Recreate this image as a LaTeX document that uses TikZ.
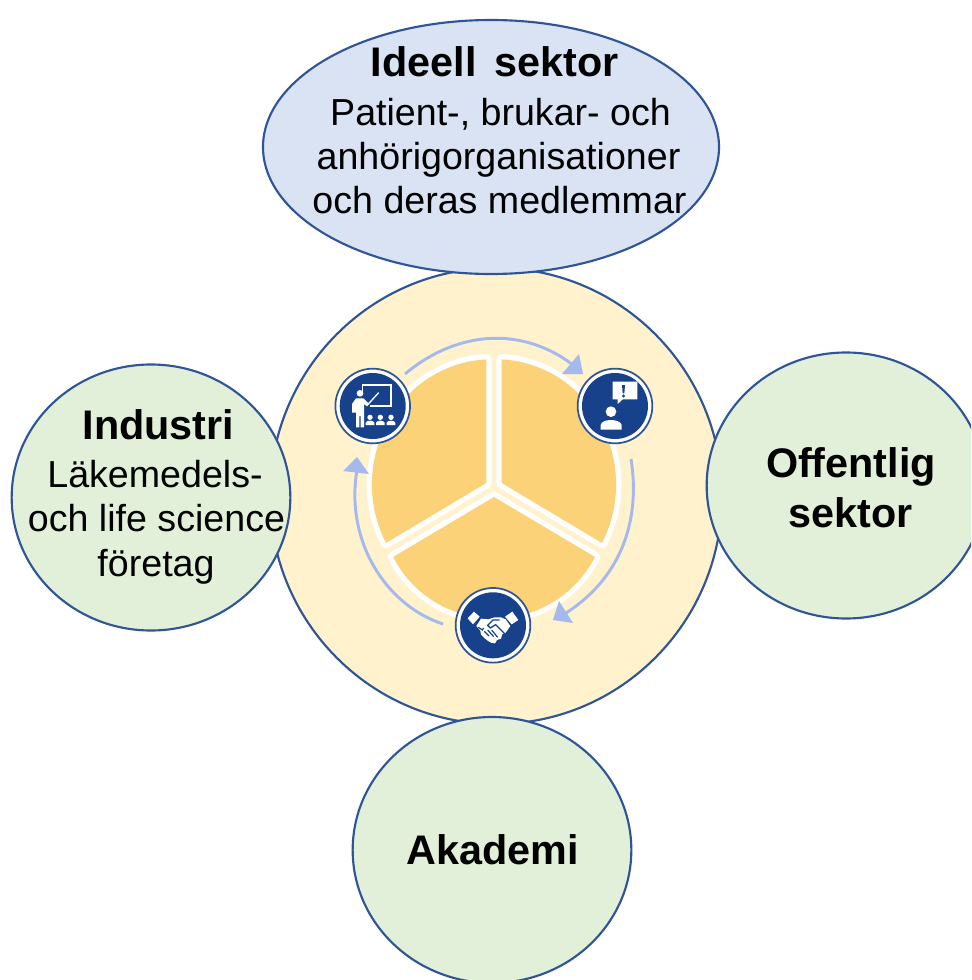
\documentclass[tikz,border=0pt]{standalone}
\usepackage{fontspec}
\setmainfont[Ligatures=CommonOff]{Liberation Sans}
\usetikzlibrary{shapes.geometric}
\definecolor{edgeblue}{HTML}{2F5597}
\definecolor{skyfill}{HTML}{DAE3F3}
\definecolor{greenfill}{HTML}{E2F0D9}
\definecolor{creamfill}{HTML}{FFF2CC}
\definecolor{sectorfill}{HTML}{FBD277}
\definecolor{navyfill}{HTML}{17428B}
\definecolor{arrowblue}{HTML}{A4B9EE}
\tikzset{
  x=0.75pt,y=-0.75pt,
  blob/.style={ellipse,draw=edgeblue,line width=1.6pt,inner sep=0pt},
  head/.style={font=\fontsize{31pt}{36pt}\selectfont\bfseries,inner sep=0pt,anchor=base},
  body/.style={font=\fontsize{28.2pt}{34pt}\selectfont,inner sep=0pt,anchor=base},
  sectorback/.style={draw=white,line width=8pt,line join=round,fill=white},
  sectorface/.style={fill=sectorfill},
  cycle/.style={draw=arrowblue,line width=2.2pt},
  tipshape/.style={fill=arrowblue},
  iconouter/.style={circle,draw=edgeblue,fill=white,line width=1.3pt,minimum size=56pt,inner sep=0pt},
  iconinner/.style={circle,fill=navyfill,minimum size=49.5pt,inner sep=0pt},
  glyph/.style={fill=white},
  glyphline/.style={draw=white,line width=1pt}
}
\begin{document}
\begin{tikzpicture}
\useasboundingbox (0,0) rectangle (971,980);
\clip (0,0) rectangle (971,980);
\fill[white] (0,0) rectangle (971,980);
% big circle and satellites
\node[blob,fill=creamfill,minimum width=339pt,minimum height=342pt] (hub) at (496,496) {};
\node[blob,fill=skyfill,minimum width=342pt,minimum height=190.5pt] (ideell) at (491,147) {};
\node[blob,fill=greenfill,minimum width=209pt,minimum height=199.5pt] (industri) at (151,497.5) {};
\node[blob,fill=greenfill,minimum width=209pt,minimum height=199.5pt] (offentlig) at (846,485.5) {};
\node[blob,fill=greenfill,minimum width=209pt,minimum height=199.5pt] (akademi) at (492,850) {};
% sectors
\def\secR{(501.7,483) -- (602,543) arc[start angle=28,end angle=-87.3,x radius=120,y radius=125] -- cycle}
\def\secL{(486.3,483) -- (386,543) arc[start angle=152,end angle=267.3,x radius=120,y radius=125] -- cycle}
\def\secB{(494,497) -- (595,557) arc[start angle=27.2,end angle=152.8,radius=113.5] -- cycle}
\path[sectorback] \secR; \path[sectorback] \secL; \path[sectorback] \secB;
\path[sectorface] \secR; \path[sectorface] \secL; \path[sectorface] \secB;
% cycle arrows
\draw[cycle] (405,374) .. controls (460,328) and (525,328) .. (573,365);
\fill[tipshape] (579,354) -- (583,374) -- (562,374) -- cycle;
\draw[cycle] (631,459) .. controls (640,515) and (625,575) .. (566,613);
\fill[tipshape] (559,601) -- (573,623) -- (553,620) -- cycle;
\draw[cycle] (443,624) .. controls (385,605) and (345,540) .. (357,470);
\fill[tipshape] (357,457) -- (369,474) -- (343,471) -- cycle;
% icons
\node[iconouter] (teach) at (372.7,406) {};
\node[iconinner] at (teach) {};
\node[iconouter] (speak) at (615,406) {};
\node[iconinner] at (speak) {};
\node[iconouter] (shake) at (493,625.3) {};
\node[iconinner] at (shake) {};
% teacher glyph
\begin{scope}[shift={(320,330)},x=0.25pt,y=-0.25pt]
  \draw[glyphline] (128,190) -- (128,165) -- (213,165) -- (213,228) -- (150,228);
  \draw[glyphline] (145,222) -- (176,188);
  \fill[glyph] (120,190) circle[radius=10];
  \fill[glyph] (108,205) -- (130,205) -- (148,222) -- (141,229) -- (132,222) -- (132,292) -- (122,292) -- (122,258) -- (118,258) -- (118,292) -- (108,292) -- (108,248) -- (96,248) -- (96,222) -- cycle;
  \foreach \cx in {150,181,213}{
    \fill[glyph] (\cx,262) circle[radius=8];
    \fill[glyph] (\cx-13,285) -- (\cx-13,278) .. controls (\cx-10,270) and (\cx+10,270) .. (\cx+13,278) -- (\cx+13,285) -- cycle;
  }
\end{scope}
% speaker glyph
\begin{scope}[shift={(320,330)},x=0.25pt,y=-0.25pt]
  \fill[glyph] (878,155) -- (952,155) -- (952,208) -- (908,208) -- (893,222) -- (893,208) -- (878,208) -- cycle;
  \fill[navyfill] (906,165) -- (915,165) -- (913,190) -- (908,190) -- cycle;
  \fill[navyfill] (910.5,198) circle[radius=5];
  \fill[glyph] (873,245) circle[radius=16];
  \fill[glyph] (842,299) -- (842,285) .. controls (845,265) and (900,265) .. (905,285) -- (905,299) -- cycle;
\end{scope}
% handshake glyph
\begin{scope}[shift={(465,600)},x=0.25pt,y=-0.25pt]
  \fill[glyph] (8,55) -- (27,35) -- (44,50) -- (24,73) -- cycle;
  \fill[glyph] (120,50) -- (142,35) -- (160,60) -- (140,73) -- cycle;
  \fill[glyph] (34,78) -- (48,56) -- (70,58) -- (88,52) -- (108,52) -- (122,58) -- (136,78) -- (122,98) -- (112,102) -- (108,116) -- (96,120) -- (90,130) -- (78,128) -- (68,122) -- (58,114) -- (48,104) -- (46,92) -- cycle;
  \draw[navyfill,line width=1pt,line join=round] (118,100) -- (92,74) -- (76,84) -- (68,76) -- (84,60) -- (104,60);
  \draw[navyfill,line width=0.9pt] (58,94) -- (72,108) (68,90) -- (86,110) (80,90) -- (98,112) (40,82) -- (52,90) -- (56,84);
\end{scope}
% labels
\node[head] (t1) at (495,76.5) {Ideell\, sektor};
\node[body] (t2) at (500.5,125.5) {Patient-, brukar- och};
\node[body] (t3) at (498.5,169.5) {anhörigorganisationer};
\node[body] (t4) at (499.5,213.5) {och deras medlemmar};
\node[head] (t5) at (158.5,439.5) {Industri};
\node[body] (t6) at (155,487.5) {Läkemedels-};
\node[body] (t7) at (156.5,531.5) {och life science};
\node[body] (t8) at (156,576.5) {företag};
\node[head] (t9) at (851,477.5) {Offentlig};
\node[head] (t10) at (851,527.5) {sektor};
\node[head] (t11) at (493,864.5) {Akademi};
\end{tikzpicture}
\end{document}
